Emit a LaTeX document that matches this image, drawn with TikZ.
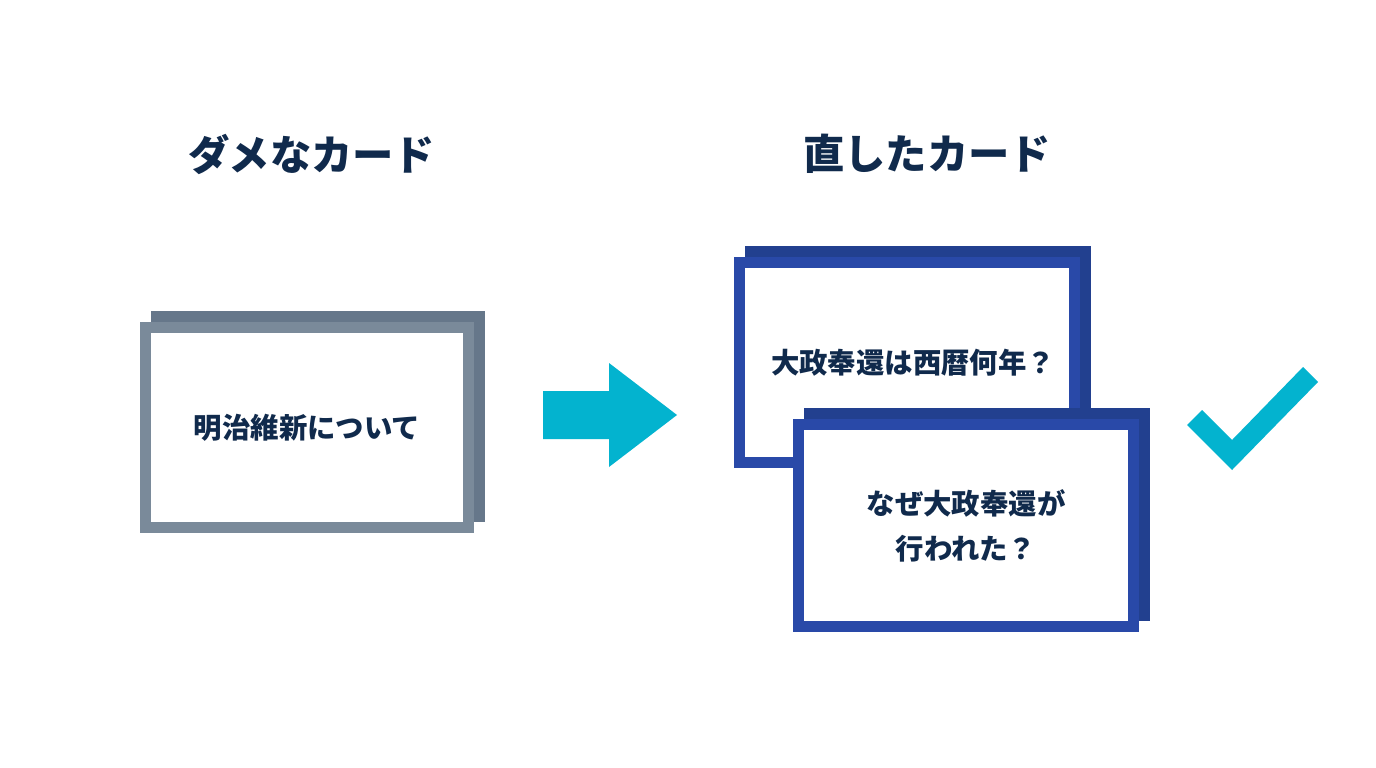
\documentclass[tikz,border=0pt]{standalone}
\usepackage{fontspec}
\setmainfont{Noto Sans CJK JP}
\usepackage{tikz}
\usetikzlibrary{arrows.meta,positioning,calc}

\definecolor{ink}{HTML}{102A4C}
\definecolor{grayfront}{HTML}{7A8A9A}
\definecolor{grayback}{HTML}{66778A}
\definecolor{bluefront}{HTML}{2949A8}
\definecolor{blueback}{HTML}{22408F}
\definecolor{accent}{HTML}{03B3CF}

\tikzset{
  title/.style={font=\fontsize{41.3}{48}\selectfont\bfseries, text=ink},
  cardtext/.style={font=\fontsize{28.4}{45}\selectfont\bfseries, text=ink, align=center},
  card/.style={draw, line width=11pt, fill=white, minimum width=323pt, minimum height=200pt, inner sep=0pt},
  widecard/.style={card, minimum width=335pt},
}

\begin{document}
\begin{tikzpicture}[x=1pt, y=-1pt, >=Stealth]

  \useasboundingbox[fill=white] (0,0) rectangle (1376,768);

  % Define the titles
  \node[title] (badT) at (312,154) {ダメなカード};
  \node[title] (goodT) at (927,154) {直したカード};

  % Left card with its shadow
  \node[card, draw=grayback, fill=grayback] (badB) at (318,416.5) {};
  \node[card, draw=grayfront, cardtext] (bad) at (307,427.5) {明治維新について};

  % Arrow between the cards
  \fill[accent] (543,391) -- (609,391) -- (609,363) -- (677,415)
    -- (609,467) -- (609,439) -- (543,439) -- cycle;

  % Right cards with their shadows
  \node[widecard, draw=blueback, fill=blueback, minimum height=200pt] (q1B) at (918,351.5) {};
  \node[widecard, draw=bluefront, minimum height=200pt] (q1) at (907,362.5) {};
  \node[cardtext] (q1T) at ($(q1)+(6,0)$) {大政奉還は西暦何年？};
  \node[widecard, draw=blueback, fill=blueback, minimum height=202pt] (q2B) at (977,514.5) {};
  \node[widecard, draw=bluefront, cardtext, minimum height=202pt] (q2) at (966,525.5) {なぜ大政奉還が\\行われた？};

  % Check mark
  \fill[accent] (1187,425) -- (1202,410) -- (1232,440) -- (1303,367)
    -- (1318,382) -- (1232,470) -- cycle;

\end{tikzpicture}
\end{document}
